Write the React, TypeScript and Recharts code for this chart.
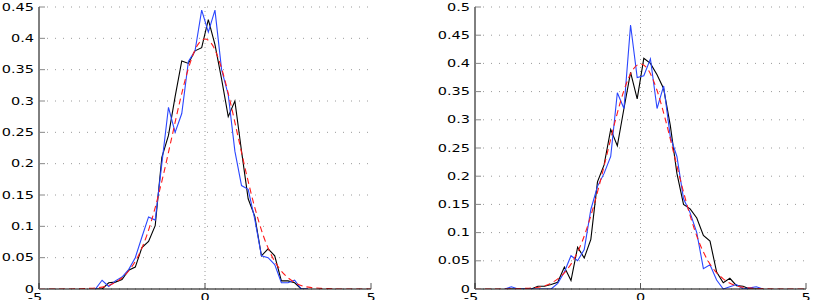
import React from "react";
import {
  LineChart,
  Line,
  XAxis,
  YAxis,
  CartesianGrid,
} from "recharts";

// bin centres (left panel)
const leftX = [
  -3.3, -3.1, -2.9, -2.7, -2.5, -2.3, -2.1, -1.9, -1.7, -1.5, -1.3, -1.1, -0.9,
  -0.7, -0.5, -0.3, -0.1, 0.1, 0.3, 0.5, 0.7, 0.9, 1.1, 1.3, 1.5, 1.7, 1.9, 2.1,
  2.3, 2.5, 2.7, 2.9, 3.1,
];
const leftBlack = [
  0, 0, 0.01, 0.011, 0.015, 0.03, 0.035, 0.066, 0.076, 0.101, 0.21, 0.245, 0.307,
  0.364, 0.36, 0.38, 0.385, 0.43, 0.39, 0.335, 0.275, 0.3, 0.22, 0.144, 0.116,
  0.053, 0.064, 0.053, 0.013, 0.013, 0.01, 0, 0,
];
const leftBlue = [
  0, 0.014, 0.004, 0.013, 0.019, 0.031, 0.05, 0.083, 0.115, 0.11, 0.2, 0.29, 0.25,
  0.28, 0.363, 0.38, 0.445, 0.41, 0.445, 0.35, 0.31, 0.22, 0.165, 0.159, 0.111,
  0.053, 0.05, 0.039, 0.01, 0.01, 0.014, 0, 0,
];

// bin centres (right panel)
const rightX = [
  -4.1, -3.9, -3.7, -3.5, -3.3, -3.1, -2.9, -2.7, -2.5, -2.3, -2.1, -1.9, -1.7,
  -1.5, -1.3, -1.1, -0.9, -0.7, -0.5, -0.3, -0.1, 0.1, 0.3, 0.5, 0.7, 0.9, 1.1,
  1.3, 1.5, 1.7, 1.9, 2.1, 2.3, 2.5, 2.7, 2.9, 3.1, 3.3, 3.5, 3.7,
];
const rightBlack = [
  0, 0, 0, 0, 0, 0.005, 0.005, 0.008, 0.012, 0.039, 0.015, 0.074, 0.055, 0.088,
  0.19, 0.22, 0.283, 0.254, 0.32, 0.384, 0.337, 0.409, 0.4, 0.38, 0.355, 0.29,
  0.205, 0.15, 0.142, 0.126, 0.095, 0.085, 0.03, 0.011, 0.019, 0.006, 0.005, 0,
  0, 0,
];
const rightBlue = [
  0, 0.004, 0, 0, 0, 0, 0, 0, 0.01, 0.03, 0.059, 0.05, 0.07, 0.141, 0.182, 0.205,
  0.235, 0.348, 0.32, 0.468, 0.375, 0.378, 0.408, 0.32, 0.36, 0.27, 0.235, 0.16,
  0.135, 0.1, 0.036, 0.043, 0.016, 0, 0.004, 0.008, 0, 0.002, 0.004, 0,
];

// fitted density (dashed red), same in both panels
const fitX = [
  -5, -4.5, -4, -3.5, -3.25, -3, -2.75, -2.5, -2.25, -2, -1.75, -1.5, -1.25, -1,
  -0.75, -0.5, -0.25, 0, 0.25, 0.5, 0.75, 1, 1.25, 1.5, 1.75, 2, 2.25, 2.5, 2.75,
  3, 3.25, 3.5, 4, 4.5, 5,
];
const fitY = [
  0, 0, 0.0001, 0.001, 0.002, 0.004, 0.009, 0.018, 0.032, 0.054, 0.086, 0.13,
  0.183, 0.242, 0.301, 0.352, 0.387, 0.399, 0.387, 0.352, 0.301, 0.242, 0.183,
  0.13, 0.086, 0.054, 0.032, 0.018, 0.009, 0.004, 0.002, 0.001, 0.0001, 0, 0,
];

const xTicks = [-5, 0, 5];
const leftYTicks = [0, 0.05, 0.1, 0.15, 0.2, 0.25, 0.3, 0.35, 0.4, 0.45];
const rightYTicks = [0, 0.05, 0.1, 0.15, 0.2, 0.25, 0.3, 0.35, 0.4, 0.45, 0.5];

const zip = (xs: number[], ys: number[]) => xs.map((x, i) => ({ x, y: ys[i] }));

const FONT = "'DejaVu Sans', sans-serif";
const fmt = (v: number) => String(Number(v.toFixed(2)));

function YTick(props: any) {
  const { x, y, payload } = props;
  return (
    <g transform={`translate(${x},${y}) scale(1.45,1)`}>
      <text x={0} y={0} dy="0.36em" textAnchor="end" fontFamily={FONT} fontSize={10} fill="#000">
        {fmt(payload.value)}
      </text>
    </g>
  );
}

function XTick(props: any) {
  const { x, y, payload } = props;
  const v = payload.value as number;
  const shift = v < 0 ? -4 : 0;
  return (
    <g transform={`translate(${x + shift},${y + 6}) scale(1.45,1)`}>
      <text x={0} y={0} textAnchor="middle" fontFamily={FONT} fontSize={10} fill="#000">
        {v < 0 ? "-" + Math.abs(v) : String(v)}
      </text>
    </g>
  );
}

type PanelProps = {
  width: number;
  yAxisWidth: number;
  yMax: number;
  yTicks: number[];
  black: { x: number; y: number }[];
  blue: { x: number; y: number }[];
};

function Panel({ width, yAxisWidth, yMax, yTicks, black, blue }: PanelProps) {
  const fit = zip(fitX, fitY);
  return (
    <LineChart width={width} height={300} margin={{ top: 7, right: 11, bottom: 0, left: 0 }}>
      <CartesianGrid
        horizontal
        vertical={false}
        stroke="#9a9a9a"
        strokeDasharray="1 7"
        horizontalValues={yTicks}
      />
      <CartesianGrid
        horizontal={false}
        vertical
        stroke="#9a9a9a"
        strokeDasharray="1 3"
        verticalValues={[0]}
      />
      <XAxis
        type="number"
        dataKey="x"
        domain={[-5, 5]}
        ticks={xTicks}
        interval={0}
        height={11}
        tickSize={-6}
        tickMargin={12}
        tick={<XTick />}
        axisLine={{ stroke: "#000" }}
        tickLine={{ stroke: "#555" }}
        allowDataOverflow
      />
      <XAxis
        xAxisId="top"
        orientation="top"
        type="number"
        domain={[-5, 5]}
        ticks={xTicks}
        interval={0}
        height={0}
        tickSize={-6}
        tick={false}
        axisLine={{ stroke: "#000" }}
        tickLine={{ stroke: "#555" }}
      />
      <YAxis
        type="number"
        domain={[0, yMax]}
        ticks={yTicks}
        interval={0}
        width={yAxisWidth}
        tickSize={-6}
        tickMargin={11}
        tick={<YTick />}
        axisLine={{ stroke: "#000" }}
        tickLine={{ stroke: "#888" }}
        allowDataOverflow
      />
      <YAxis
        yAxisId="right"
        orientation="right"
        type="number"
        domain={[0, yMax]}
        ticks={yTicks}
        interval={0}
        width={0}
        tickSize={-6}
        tick={false}
        axisLine={{ stroke: "#000" }}
        tickLine={{ stroke: "#888" }}
      />
      <Line
        data={black}
        dataKey="y"
        type="linear"
        stroke="#000"
        strokeWidth={1.1}
        dot={false}
        isAnimationActive={false}
      />
      <Line
        data={blue}
        dataKey="y"
        type="linear"
        stroke="#2a46ff"
        strokeWidth={1.1}
        dot={false}
        isAnimationActive={false}
      />
      <Line
        data={fit}
        dataKey="y"
        type="monotone"
        stroke="#ff1a1a"
        strokeWidth={1.1}
        strokeDasharray="6 4"
        dot={false}
        isAnimationActive={false}
      />
    </LineChart>
  );
}

export default function App() {
  return (
    <div style={{ position: "absolute", left: 0, top: 0, width: 817, height: 300, background: "#fff" }}>
      <div style={{ position: "absolute", left: 0, top: 0 }}>
        <Panel
          width={382}
          yAxisWidth={39}
          yMax={0.45}
          yTicks={leftYTicks}
          black={zip(leftX, leftBlack)}
          blue={zip(leftX, leftBlue)}
        />
      </div>
      <div style={{ position: "absolute", left: 420, top: 0 }}>
        <Panel
          width={397}
          yAxisWidth={55}
          yMax={0.5}
          yTicks={rightYTicks}
          black={zip(rightX, rightBlack)}
          blue={zip(rightX, rightBlue)}
        />
      </div>
    </div>
  );
}
